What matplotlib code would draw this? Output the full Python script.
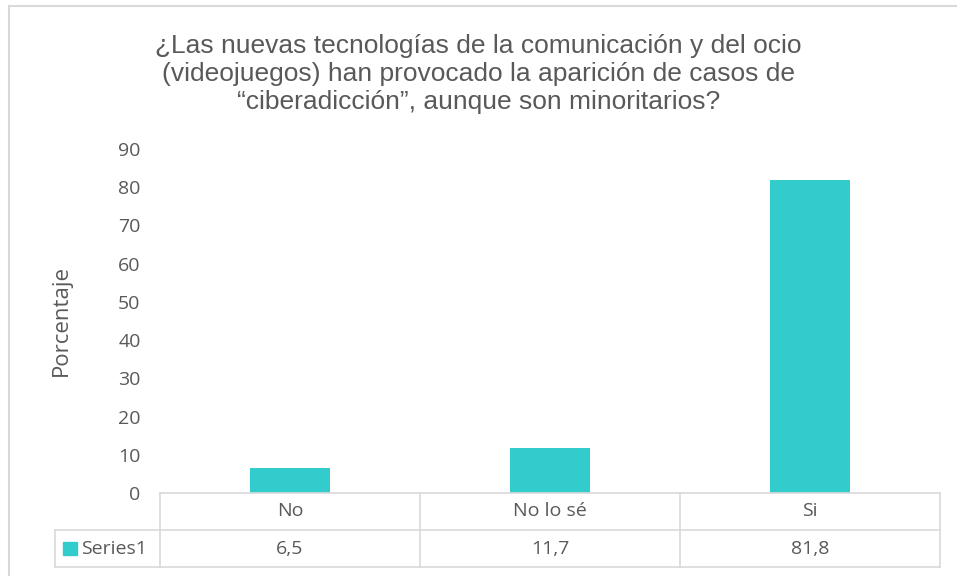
import matplotlib.pyplot as plt
import matplotlib.transforms as mtransforms
from matplotlib.patches import Rectangle
import numpy as np

categories = ['No', 'No lo sé', 'Si']
values = [6.5, 11.7, 81.8]
value_labels = ['6,5', '11,7', '81,8']
series_name = 'Series1'
yticks = [0, 10, 20, 30, 40, 50, 60, 70, 80, 90]

title = ('¿Las nuevas tecnologías de la comunicación y del ocio\n'
         '(videojuegos) han provocado la aparición de casos de\n'
         '“ciberadicción”, aunque son minoritarios?')

bar_color = '#33CCCC'
text_color = '#595959'
line_color = '#D9D9D9'

W, H = 957, 576
fig = plt.figure(figsize=(W / 100, H / 100), dpi=100)

# outer chart frame (runs off the right/bottom edge in the original)
fig.add_artist(plt.Line2D([9 / W, 9 / W], [0, 1 - 6 / H], color=line_color, lw=1.5))
fig.add_artist(plt.Line2D([9 / W, 1], [1 - 6 / H, 1 - 6 / H], color=line_color, lw=1.5))

x0, x1 = 160, 940
y_top, y_zero = 149, 493
ax = fig.add_axes([x0 / W, 1 - y_zero / H, (x1 - x0) / W, (y_zero - y_top) / H])

idx = np.arange(len(categories))
ax.bar(idx, values, width=0.31, color=bar_color, zorder=2)
ax.set_xlim(-0.5, len(categories) - 0.5)
ax.set_ylim(0, 90)
ax.set_yticks(yticks)
ax.set_yticklabels([str(t) for t in yticks], fontsize=14, color=text_color, family='Open Sans')
ax.tick_params(axis='y', length=0, pad=14)
ax.set_xticks([])
for s in ax.spines.values():
    s.set_visible(False)
ax.set_ylabel('Porcentaje', fontsize=16, color=text_color, family='Open Sans', labelpad=33)

fig.text(0.5, 1 - 74 / H, title, ha='center', va='center', fontsize=19,
         color=text_color, family='Liberation Sans', linespacing=1.2)

# data table under the axis
row_h = 37 / (y_zero - y_top)
tr = mtransforms.blended_transform_factory(ax.transData, ax.transAxes)
left_cell = -0.5 - 105 / 260
kw = dict(color=line_color, lw=1.2, transform=tr, clip_on=False)
# horizontal lines
ax.plot([-0.5, 2.5], [0, 0], **kw)
ax.plot([left_cell, 2.5], [-row_h, -row_h], **kw)
ax.plot([left_cell, 2.5], [-2 * row_h, -2 * row_h], **kw)
# vertical lines
for b in np.arange(len(categories) + 1) - 0.5:
    ax.plot([b, b], [0, -2 * row_h], **kw)
ax.plot([left_cell, left_cell], [-row_h, -2 * row_h], **kw)

for i, (c, v) in enumerate(zip(categories, value_labels)):
    ax.text(i, -row_h / 2, c, ha='center', va='center', fontsize=14,
            color=text_color, family='Open Sans', transform=tr)
    ax.text(i, -1.5 * row_h, v, ha='center', va='center', fontsize=14,
            color=text_color, family='Open Sans', transform=tr)

key_w = 14 / 260
ax.add_patch(Rectangle((left_cell + 8 / 260, -1.5 * row_h - 0.02), key_w, 0.04,
                       color=bar_color, transform=tr, clip_on=False))
ax.text(left_cell + 26 / 260, -1.5 * row_h, series_name, ha='left', va='center',
        fontsize=14, color=text_color, family='Open Sans', transform=tr)

fig.savefig('out.png', dpi=100)
